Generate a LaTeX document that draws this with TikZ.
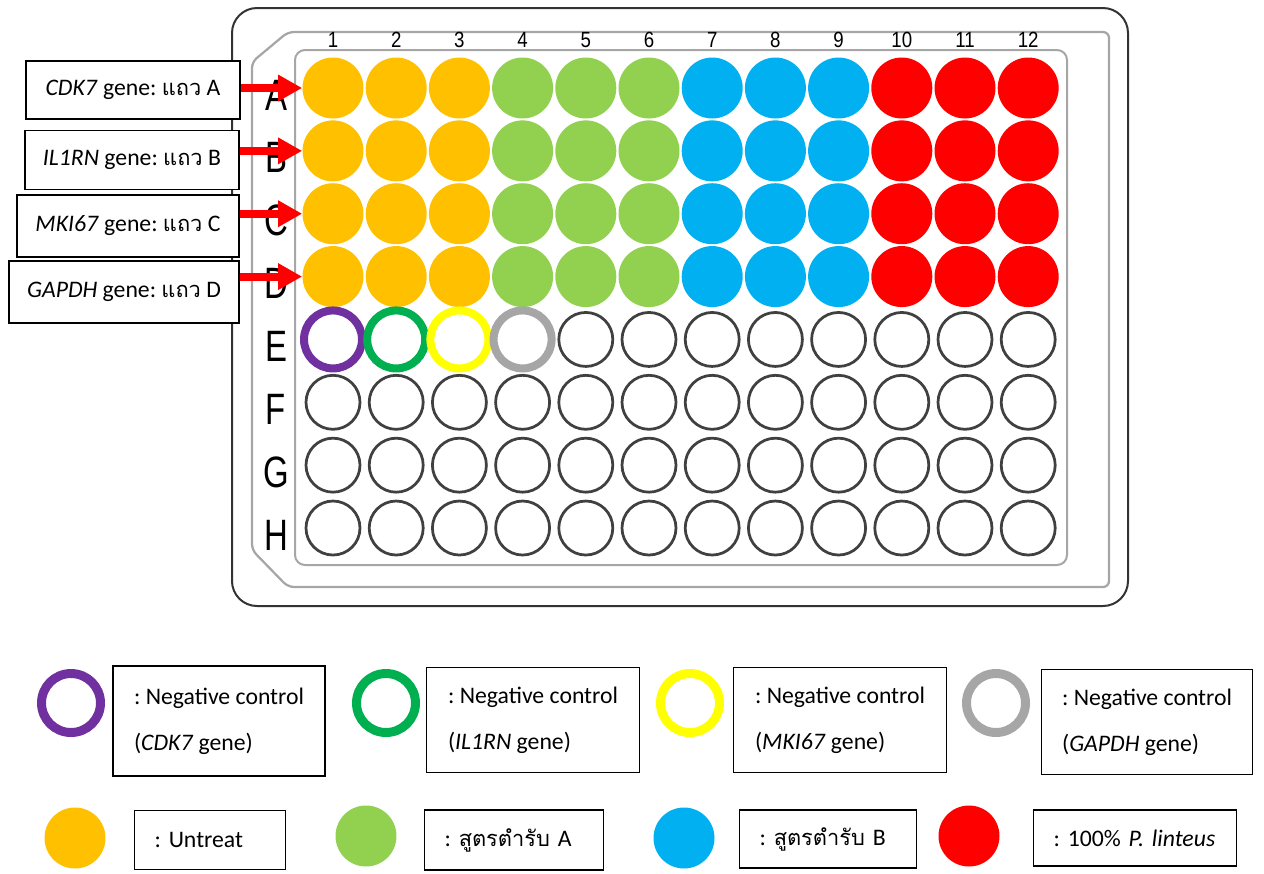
\documentclass[tikz,border=0pt]{standalone}
\usepackage{fontspec}
\setmainfont{Liberation Sans}
\newfontfamily\labelfont{Carlito}
\newfontfamily\thaifont[Script=Thai, Scale=0.92]{Loma}
\newcommand{\thaitxt}[1]{{\thaifont #1}}
\usetikzlibrary{arrows.meta}

\definecolor{untreat}{HTML}{FFC000}
\definecolor{formA}{HTML}{92D050}
\definecolor{formB}{HTML}{00B0F0}
\definecolor{linteus}{HTML}{FF0000}
\definecolor{ncCDK}{HTML}{7030A0}
\definecolor{ncIL}{HTML}{00B050}
\definecolor{ncMKI}{HTML}{FFFF00}
\definecolor{ncGAPDH}{HTML}{A6A6A6}

\tikzset{
  fullwell/.style={circle, minimum size=1.22cm, inner sep=0pt},
  emptywell/.style={circle, draw=black!75, line width=0.055cm, minimum size=1.08cm, inner sep=0pt},
  ringwell/.style={circle, line width=0.16cm, minimum size=1.16cm, inner sep=0pt},
  genebox/.style={draw, fill=white, line width=0.03cm, align=center, inner sep=0pt,
    font=\labelfont\fontsize{13.5}{16}\selectfont\frenchspacing},
  legbox/.style={draw, line width=0.03cm, inner sep=0pt, align=left,
    font=\labelfont\fontsize{13.5}{16}\selectfont\frenchspacing},
  keybox/.style={legbox, inner xsep=0.4cm},
  legring/.style={circle, line width=0.18cm, minimum size=1.18cm, inner sep=0pt},
  legdot/.style={circle, minimum size=1.22cm, inner sep=0pt},
  rowarrow/.style={draw=linteus, line width=0.16cm, -{Triangle[length=0.48cm,width=0.5cm]}},
}

\begin{document}
\begin{tikzpicture}[x=0.02cm, y=-0.02cm]
\useasboundingbox (0,0) rectangle (1264,873);

% plate outline
\draw[line width=0.04cm, black!80, rounded corners=0.5cm] (232,8) rectangle (1128,606);
\draw[line width=0.045cm, gray!70, rounded corners=0.12cm] (252,62) -- (288,32) -- (1109,32) -- (1109,587) -- (288,587) -- (252,550) -- cycle;
\draw[line width=0.04cm, gray!70, rounded corners=0.2cm] (295,50) rectangle (1067,565);

% column numbers and row letters
\foreach \col in {1,...,12}
  \node[font=\fontsize{12.5}{14}\selectfont, xscale=0.85] (n\col) at ({333+(\col-1)*63.2},40) {\col};
\foreach \row [count=\r] in {A,B,C,D,E,F,G,H}
  \node[font=\fontsize{25}{28}\selectfont, xscale=0.75] (l\row) at (276,{95+(\r-1)*62.86}) {\row};

% wells
\foreach \row [count=\r] in {A,B,C,D}
  \foreach \col/\clr in {1/untreat,2/untreat,3/untreat,4/formA,5/formA,6/formA,
                         7/formB,8/formB,9/formB,10/linteus,11/linteus,12/linteus}
    \node[fullwell, fill=\clr] (w\row\col) at ({333+(\col-1)*63.2},{88+(\r-1)*62.86}) {};
\foreach \col/\clr in {1/ncCDK,2/ncIL,3/ncMKI,4/ncGAPDH}
  \node[ringwell, draw=\clr] (wE\col) at ({333+(\col-1)*63.2},{88+4*62.86}) {};
\foreach \col in {5,...,12}
  \node[emptywell] (wE\col) at ({333+(\col-1)*63.2},{88+4*62.86}) {};
\foreach \row [count=\r from 6] in {F,G,H}
  \foreach \col in {1,...,12}
    \node[emptywell] (w\row\col) at ({333+(\col-1)*63.2},{88+(\r-1)*62.86}) {};

% gene labels
\node[genebox, minimum width=4.28cm, minimum height=1.16cm] (labA) at (133,90) {\textit{CDK7} gene: \thaitxt{แถว} A};
\node[genebox, minimum width=4.28cm, minimum height=1.18cm] (labB) at (132,160) {\textit{IL1RN} gene: \thaitxt{แถว} B};
\node[genebox, minimum width=4.44cm, minimum height=1.24cm] (labC) at (128,226) {\textit{MKI67} gene: \thaitxt{แถว} C};
\node[genebox, minimum width=4.6cm, minimum height=1.24cm] (labD) at (124,292) {\textit{GAPDH} gene: \thaitxt{แถว} D};
\foreach \row in {A,B,C,D}
  \draw[rowarrow] (lab\row.east |- w\row1.west) -- (w\row1.west);

% legend, controls
\node[legring, draw=ncCDK] (kCDK) at (71,703) {};
\node[legbox, minimum width=4.24cm, minimum height=2.2cm] (tCDK) at (219,721)
  {: Negative control\\[0.35cm](\textit{CDK7} gene)};
\node[legring, draw=ncIL] (kIL) at (386,703) {};
\node[legbox, minimum width=4.26cm, minimum height=2.1cm] (tIL) at (533,720)
  {: Negative control\\[0.35cm](\textit{IL1RN} gene)};
\node[legring, draw=ncMKI] (kMKI) at (690,703) {};
\node[legbox, minimum width=4.26cm, minimum height=2.1cm] (tMKI) at (840,720)
  {: Negative control\\[0.35cm](\textit{MKI67} gene)};
\node[legring, draw=ncGAPDH] (kGAPDH) at (996,703) {};
\node[legbox, minimum width=4.22cm, minimum height=2.1cm] (tGAPDH) at (1147,722)
  {: Negative control\\[0.35cm](\textit{GAPDH} gene)};

% legend, treatments
\node[legdot, fill=untreat] (kUn) at (75,838) {};
\node[keybox, text width=2.22cm, minimum height=1.18cm] (tUn) at (210,840) {: Untreat};
\node[legdot, fill=formA] (kA) at (366,836) {};
\node[keybox, text width=2.78cm, minimum height=1.2cm] (tA) at (514,840) {: \thaitxt{สูตรตำรับ} A};
\node[legdot, fill=formB] (kB) at (684,838) {};
\node[legdot, fill=linteus] (kP) at (969,836) {};
\node[keybox, text width=2.74cm, minimum height=1.16cm] (tB) at (828,839) {: \thaitxt{สูตรตำรับ} B};
\node[keybox, text width=3.26cm, minimum height=1.12cm] (tP) at (1135,838) {: 100\% \textit{P. linteus}};
\end{tikzpicture}
\end{document}
